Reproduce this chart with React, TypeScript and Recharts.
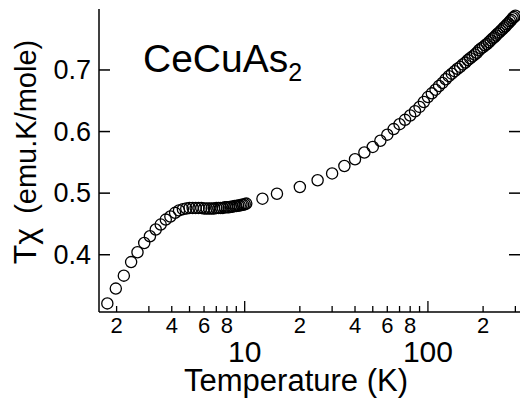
import React from 'react';
import { ScatterChart, Scatter, XAxis, YAxis, Label } from 'recharts';

const FONT = '"Liberation Sans", Arial, Helvetica, sans-serif';

// rise below 5 K and the plateau up to 10 K
const lowT = [
  1.78, 1.98, 2.19, 2.4, 2.6, 2.83, 3.04, 3.27, 3.48, 3.71, 3.93, 4.17, 4.38,
  4.6, 4.8, 5.0, 5.2, 5.4, 5.6, 5.8, 6.0, 6.2, 6.4, 6.6, 6.8, 7.0, 7.2, 7.4,
  7.6, 7.8, 8.0, 8.2, 8.4, 8.6, 8.8, 9.0, 9.2, 9.4, 9.6, 9.8, 10.0, 10.2,
];
const lowChi = [
  0.321, 0.345, 0.366, 0.388, 0.404, 0.419, 0.43, 0.441, 0.449, 0.457, 0.462, 0.468, 0.472,
  0.474, 0.475, 0.476, 0.476, 0.476, 0.476, 0.476, 0.475, 0.475, 0.475, 0.475, 0.475, 0.476, 0.476, 0.476,
  0.476, 0.477, 0.477, 0.477, 0.478, 0.478, 0.479, 0.479, 0.48, 0.48, 0.481, 0.481, 0.482, 0.483,
];

// 12.5 K then every 5 K up to room temperature
const highT = [
  12.5, 15, 20, 25, 30, 35, 40, 45, 50, 55, 60, 65, 70, 75, 80, 85, 90, 95, 100,
  105, 110, 115, 120, 125, 130, 135, 140, 145, 150, 155, 160, 165, 170, 175, 180,
  185, 190, 195, 200, 205, 210, 215, 220, 225, 230, 235, 240, 245, 250, 255, 260,
  265, 270, 275, 280, 285, 290, 295, 300,
];
const highChi = [
  0.491, 0.499, 0.51, 0.521, 0.532, 0.544, 0.555, 0.566, 0.575, 0.585, 0.595, 0.604, 0.612, 0.619, 0.626, 0.633, 0.64, 0.648, 0.656,
  0.662, 0.668, 0.674, 0.679, 0.685, 0.69, 0.694, 0.698, 0.702, 0.705, 0.709, 0.712, 0.716, 0.719, 0.722, 0.725,
  0.728, 0.732, 0.735, 0.737, 0.74, 0.742, 0.745, 0.748, 0.751, 0.753, 0.756, 0.759, 0.761, 0.764, 0.766, 0.769,
  0.771, 0.774, 0.776, 0.779, 0.781, 0.784, 0.786, 0.788,
];

const xTicks = [2, 3, 4, 5, 6, 7, 8, 9, 10, 20, 30, 40, 50, 60, 70, 80, 90, 100, 200, 300];
const xMajor = [10, 100];
const xDigitTicks = [2, 4, 6, 8, 20, 40, 60, 80, 200];
const yTicks = [0.4, 0.5, 0.6, 0.7];

const xDomain = [1.603, 318];
const yDomain = [0.307, 0.799];

const points = [...lowT, ...highT].map((t, i) => ({ t, chi: [...lowChi, ...highChi][i] }));

// right edge of the plot (chart width minus right margin)
const PLOT_RIGHT = 520;

const BottomTick = (props: any) => {
  const { x, y, payload } = props;
  const v = payload.value;
  const major = xMajor.includes(v);
  return (
    <g>
      <line x1={x} x2={x} y1={y} y2={y - (major ? 11 : 6)} stroke="#000" strokeWidth={1.3} />
      {xDigitTicks.includes(v) && (
        <text x={x} y={y + 21} textAnchor="middle" fontSize={22} fontFamily={FONT} fill="#000">
          {String(v).charAt(0)}
        </text>
      )}
      {major && (
        <text x={x} y={y + 50} textAnchor="middle" fontSize={30} fontFamily={FONT} fill="#000">
          {v}
        </text>
      )}
    </g>
  );
};

const TopTick = (props: any) => {
  const { x, y, payload } = props;
  const major = xMajor.includes(payload.value);
  return <line x1={x} x2={x} y1={y} y2={y + (major ? 11 : 6)} stroke="#000" strokeWidth={1.3} />;
};

const LeftTick = (props: any) => {
  const { x, y, payload } = props;
  return (
    <text x={x - 8} y={y + 9} textAnchor="end" fontSize={27} fontFamily={FONT} fill="#000">
      {payload.value.toFixed(1)}
    </text>
  );
};

const circle = (props: any) => (
  <circle cx={props.cx} cy={props.cy} r={5.6} fill="none" stroke="#000" strokeWidth={1.3} />
);

const axisLine = { stroke: '#000', strokeWidth: 1.5 };

// y title, compound name and the inward ticks on both vertical edges
const LeftDecor = ({ viewBox }: any) => {
  const left = viewBox.x + viewBox.width;
  const toY = (v: number) =>
    viewBox.y + ((yDomain[1] - v) / (yDomain[1] - yDomain[0])) * viewBox.height;
  return (
    <g>
      {yTicks.map((v) => (
        <g key={v}>
          <line x1={left} x2={left + 11} y1={toY(v)} y2={toY(v)} stroke="#000" strokeWidth={1.5} />
          <line
            x1={PLOT_RIGHT}
            x2={PLOT_RIGHT - 11}
            y1={toY(v)}
            y2={toY(v)}
            stroke="#000"
            strokeWidth={1.5}
          />
        </g>
      ))}
      <text
        x={36}
        y={152}
        transform="rotate(-90, 36, 152)"
        textAnchor="middle"
        fontFamily={FONT}
        fill="#000"
      >
        <tspan fontSize={32}>Tχ</tspan>
        <tspan fontSize={29} dx={14}>(emu.K/mole)</tspan>
      </text>
      <text x={143} y={72} fontSize={39} fontFamily={FONT} fill="#000">
        CeCuAs
        <tspan fontSize={25} dy={9}>2</tspan>
      </text>
    </g>
  );
};

export default function App() {
  return (
    <div style={{ position: 'absolute', left: 0, top: 0 }}>
      <ScatterChart width={521} height={401} margin={{ top: 9, right: 1, bottom: 0, left: 0 }}>
        <XAxis
          dataKey="t"
          type="number"
          scale="log"
          domain={xDomain}
          allowDataOverflow
          ticks={xTicks}
          interval={0}
          height={89}
          tickSize={0}
          tickMargin={0}
          tickLine={false}
          axisLine={axisLine}
          tick={BottomTick}
        >
          <Label
            content={({ viewBox }: any) => (
              <text
                x={296}
                y={viewBox.y + 79}
                textAnchor="middle"
                fontSize={31}
                fontFamily={FONT}
                fill="#000"
              >
                Temperature (K)
              </text>
            )}
          />
        </XAxis>
        <XAxis
          xAxisId="top"
          orientation="top"
          dataKey="t"
          type="number"
          scale="log"
          domain={xDomain}
          allowDataOverflow
          ticks={xTicks}
          interval={0}
          height={0}
          tickSize={0}
          tickMargin={0}
          tickLine={false}
          axisLine={axisLine}
          tick={TopTick}
        />
        <YAxis
          dataKey="chi"
          type="number"
          domain={yDomain}
          allowDataOverflow
          ticks={yTicks}
          interval={0}
          width={99}
          tickSize={0}
          tickMargin={0}
          tickLine={false}
          axisLine={axisLine}
          tick={LeftTick}
        >
          <Label content={LeftDecor} />
        </YAxis>
        <Scatter data={points} shape={circle} isAnimationActive={false} />
      </ScatterChart>
    </div>
  );
}
